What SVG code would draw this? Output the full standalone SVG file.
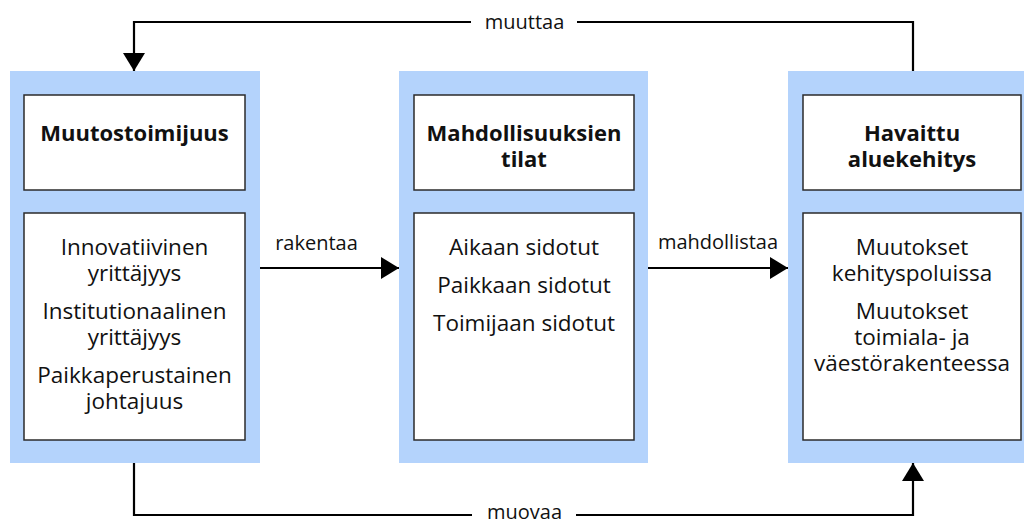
<svg xmlns="http://www.w3.org/2000/svg" width="1024" height="523" viewBox="0 0 1024 523">
<style>
.panel{fill:#b4d3fc}
.box{fill:#fff;stroke:#2b2b2b;stroke-width:1.5}
.t{font-family:"Open Sans","Noto Sans",sans-serif;font-size:22.5px;fill:#111;text-anchor:middle}
.b{font-weight:bold;font-size:22px}
.lbl{font-family:"Open Sans","Noto Sans",sans-serif;font-size:20px;fill:#111;text-anchor:middle}
.ln{fill:none;stroke:#000;stroke-width:2.2}
</style>
<defs>
<marker id="ah" viewBox="0 0 18 22" refX="18" refY="11" markerWidth="18" markerHeight="22" markerUnits="userSpaceOnUse" orient="auto">
<path d="M0,0 L18,11 L0,22 Z" fill="#000"/>
</marker>
</defs>
<rect width="1024" height="523" fill="#fff"/>
<g id="connectors">
<path class="ln" d="M913,71 V22 H134 V71" marker-end="url(#ah)"/>
<path class="ln" d="M134,463 V515 H913 V463" marker-end="url(#ah)"/>
<path class="ln" d="M260,268 H399" marker-end="url(#ah)"/>
<path class="ln" d="M648,268 H788" marker-end="url(#ah)"/>
<rect x="471" y="8" width="106" height="28" fill="#fff"/>
<rect x="472" y="502" width="104" height="21" fill="#fff"/>
<text class="lbl" x="524.5" y="29">muuttaa</text>
<text class="lbl" x="524.5" y="519">muovaa</text>
<text class="lbl" x="316.5" y="250">rakentaa</text>
<text class="lbl" x="718" y="249">mahdollistaa</text>
</g>
<g id="muutostoimijuus">
<rect class="panel" x="10" y="71" width="250" height="392"/>
<rect class="box" x="24" y="95" width="221" height="95"/>
<text class="t b" x="134.5" y="141">Muutostoimijuus</text>
<rect class="box" x="24" y="213" width="221" height="227"/>
<text class="t" x="134.5" y="255">Innovatiivinen</text>
<text class="t" x="134.5" y="281">yrittäjyys</text>
<text class="t" x="134.5" y="319">Institutionaalinen</text>
<text class="t" x="134.5" y="345">yrittäjyys</text>
<text class="t" x="134.5" y="383">Paikkaperustainen</text>
<text class="t" x="134.5" y="409">johtajuus</text>
</g>
<g id="mahdollisuuksien">
<rect class="panel" x="399" y="71" width="249" height="392"/>
<rect class="box" x="414" y="95" width="220" height="95"/>
<text class="t b" x="524" y="141">Mahdollisuuksien</text>
<text class="t b" x="524" y="167">tilat</text>
<rect class="box" x="414" y="213" width="220" height="227"/>
<text class="t" x="524" y="255">Aikaan sidotut</text>
<text class="t" x="524" y="293">Paikkaan sidotut</text>
<text class="t" x="524" y="331">Toimijaan sidotut</text>
</g>
<g id="havaittu">
<rect class="panel" x="788" y="71" width="250" height="392"/>
<rect class="box" x="803" y="95" width="218" height="95"/>
<text class="t b" x="912" y="141">Havaittu</text>
<text class="t b" x="912" y="167">aluekehitys</text>
<rect class="box" x="803" y="213" width="218" height="227"/>
<text class="t" x="912" y="255">Muutokset</text>
<text class="t" x="912" y="281">kehityspoluissa</text>
<text class="t" x="912" y="319">Muutokset</text>
<text class="t" x="912" y="345">toimiala- ja</text>
<text class="t" x="912" y="371">väestörakenteessa</text>
</g>
</svg>
